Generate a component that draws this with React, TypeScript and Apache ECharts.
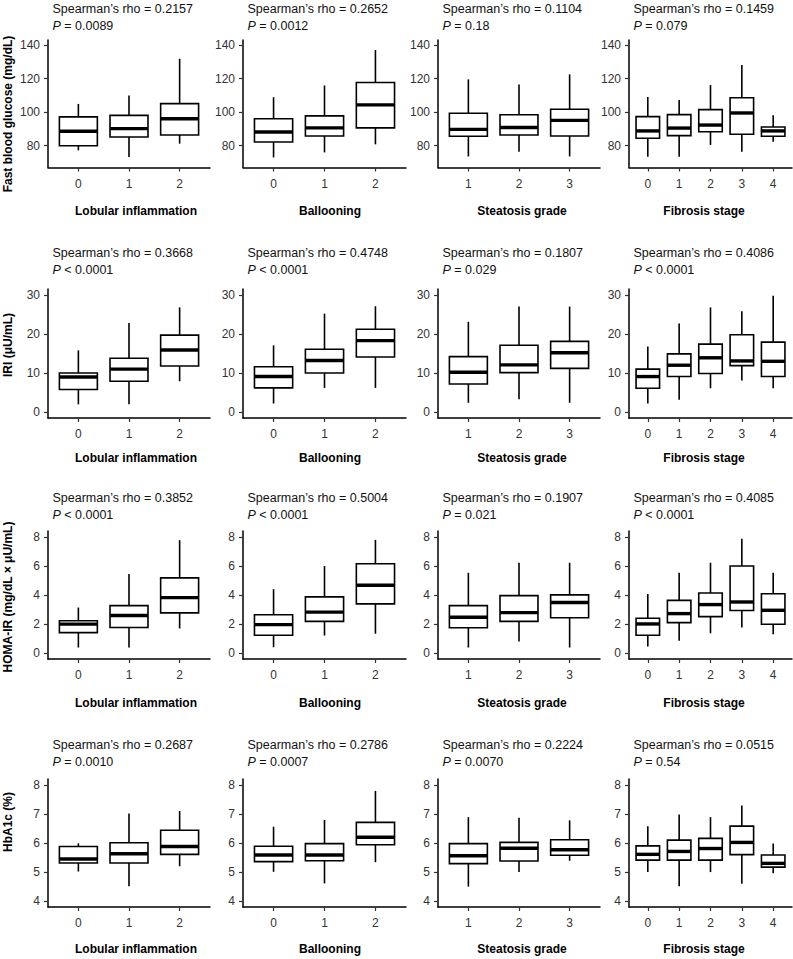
import React, { useEffect, useRef } from 'react';
import * as echarts from 'echarts';

// ---------- categories & titles ----------
const lobularCats = ['0', '1', '2'];
const ballooningCats = ['0', '1', '2'];
const steatosisCats = ['1', '2', '3'];
const fibrosisCats = ['0', '1', '2', '3', '4'];
const groupCats = [lobularCats, ballooningCats, steatosisCats, fibrosisCats];
const groupTitles = ['Lobular inflammation', 'Ballooning', 'Steatosis grade', 'Fibrosis stage'];
const measureTitles = ['Fast blood glucose (mg/dL)', 'IRI (μU/mL)', 'HOMA-IR (mg/dL × μU/mL)', 'HbA1c (%)'];

// ---------- box values: [min, Q1, median, Q3, max] ----------
const fbgLobular = [[77.2, 80, 88.6, 97.2, 104.9], [73.2, 85.2, 90.2, 98.1, 109.9], [81.2, 86.4, 96.1, 105.1, 131.8]];
const fbgBallooning = [[73, 82.2, 88.2, 96.1, 108.9], [76, 85.8, 90.6, 97.8, 115.9], [80.8, 90.6, 104.3, 117.7, 137]];
const fbgSteatosis = [[73.6, 85.6, 89.7, 99.3, 119.5], [76.4, 86.4, 90.8, 98.4, 116.5], [73.6, 85.8, 95.1, 101.7, 122.5]];
const fbgFibrosis = [[73.4, 84.4, 88.8, 97.3, 109], [73.4, 86, 90.5, 98.5, 107.2], [80.4, 88.3, 92.3, 101.5, 116.2], [76.4, 86.8, 99.5, 108.6, 128.1], [82.4, 85.6, 88.8, 91.1, 98.1]];

const iriLobular = [[2, 5.8, 9, 10, 15.8], [2, 7.9, 11, 13.8, 22.8], [7.9, 11.8, 15.9, 19.7, 26.8]];
const iriBallooning = [[2.2, 6.2, 9.1, 11.6, 17.1], [6.2, 10, 13.2, 16.1, 25.2], [6.2, 14.1, 18.3, 21.2, 27.1]];
const iriSteatosis = [[2.4, 7.2, 10.2, 14.2, 23.1], [3.3, 10.1, 12.1, 17.1, 27], [2.4, 11.2, 15.2, 18.1, 27]];
const iriFibrosis = [[2.2, 6.1, 9.1, 11, 16.8], [3.2, 9.1, 12, 14.9, 22.7], [6.1, 9.9, 13.9, 17.4, 26.8], [8.1, 11.9, 13.1, 19.8, 25.8], [6.1, 9.1, 13, 17.9, 29.8]];

const homaLobular = [[0.39, 1.41, 2.0, 2.23, 3.14], [0.39, 1.77, 2.59, 3.27, 5.45], [1.7, 2.77, 3.82, 5.18, 7.77]];
const homaBallooning = [[0.41, 1.23, 1.96, 2.64, 4.4], [1.21, 2.19, 2.82, 3.87, 5.99], [1.34, 3.39, 4.67, 6.15, 7.79]];
const homaSteatosis = [[0.39, 1.75, 2.47, 3.27, 5.53], [0.81, 2.19, 2.79, 3.96, 6.22], [0.39, 2.44, 3.48, 4.01, 6.22]];
const homaFibrosis = [[0.46, 1.23, 2.01, 2.4, 4.07], [0.85, 2.1, 2.72, 3.63, 5.53], [1.37, 2.51, 3.34, 4.14, 6.22], [1.76, 2.93, 3.52, 5.99, 7.86], [1.3, 1.99, 2.95, 4.09, 5.53]];

const hba1cLobular = [[5.02, 5.31, 5.45, 5.88, 5.99], [4.51, 5.31, 5.63, 6.01, 7.01], [5.2, 5.61, 5.88, 6.44, 7.1]];
const hba1cBallooning = [[5.01, 5.36, 5.59, 5.89, 6.56], [4.61, 5.39, 5.59, 5.98, 6.79], [5.34, 5.94, 6.2, 6.71, 7.79]];
const hba1cSteatosis = [[4.5, 5.29, 5.56, 5.98, 6.89], [5.0, 5.38, 5.82, 6.02, 6.87], [5.39, 5.58, 5.77, 6.11, 6.78]];
const hba1cFibrosis = [[5.0, 5.41, 5.61, 5.9, 6.58], [4.51, 5.41, 5.71, 6.1, 6.98], [5.0, 5.41, 5.81, 6.16, 6.89], [4.6, 5.6, 6.02, 6.58, 7.29], [4.96, 5.17, 5.3, 5.59, 5.98]];

// ---------- statistics text ----------
const fbgRho = ['0.2157', '0.2652', '0.1104', '0.1459'];
const fbgP = ['= 0.0089', '= 0.0012', '= 0.18', '= 0.079'];
const iriRho = ['0.3668', '0.4748', '0.1807', '0.4086'];
const iriP = ['< 0.0001', '< 0.0001', '= 0.029', '< 0.0001'];
const homaRho = ['0.3852', '0.5004', '0.1907', '0.4085'];
const homaP = ['< 0.0001', '< 0.0001', '= 0.021', '< 0.0001'];
const hba1cRho = ['0.2687', '0.2786', '0.2224', '0.0515'];
const hba1cP = ['= 0.0010', '= 0.0007', '= 0.0070', '= 0.54'];

// ---------- y-axis ticks & ranges ----------
const fbgTicks = [80, 100, 120, 140];
const iriTicks = [0, 10, 20, 30];
const homaTicks = [0, 2, 4, 6, 8];
const hba1cTicks = [4, 5, 6, 7, 8];
const fbgRange = [67, 143];
const iriRange = [-1.5, 31.5];
const homaRange = [-0.4, 8.4];
const hba1cRange = [3.8, 8.2];

const rows = [
  { data: [fbgLobular, fbgBallooning, fbgSteatosis, fbgFibrosis], rho: fbgRho, p: fbgP, ticks: fbgTicks, range: fbgRange },
  { data: [iriLobular, iriBallooning, iriSteatosis, iriFibrosis], rho: iriRho, p: iriP, ticks: iriTicks, range: iriRange },
  { data: [homaLobular, homaBallooning, homaSteatosis, homaFibrosis], rho: homaRho, p: homaP, ticks: homaTicks, range: homaRange },
  { data: [hba1cLobular, hba1cBallooning, hba1cSteatosis, hba1cFibrosis], rho: hba1cRho, p: hba1cP, ticks: hba1cTicks, range: hba1cRange },
];

// ---------- layout ----------
const W = 793;
const H = 959;
const colLeft = [48, 243, 438, 629];
const colRight = [210, 406, 600, 792];
const rowTop = [40, 289, 531, 779];
const rowBottom = [167.5, 418, 659, 907];
const statLine1 = [9, 253, 498, 745];
const xTitleX = [136, 330, 522, 704];
const xTitleY = [211, 458, 703, 949];
const yTitleY = [114, 345, 597, 822];
const FONT = '"Liberation Sans", Arial, Helvetica, sans-serif';
const LINE_H = 16.5;

function buildOption() {
  const grid: any[] = [];
  const xAxis: any[] = [];
  const yAxis: any[] = [];
  const series: any[] = [];
  const title: any[] = [];
  const graphic: any[] = [];

  rows.forEach((row, r) => {
    row.data.forEach((boxes, c) => {
      const idx = r * 4 + c;
      const cats = groupCats[c];
      const n = cats.length;
      grid.push({
        left: colLeft[c],
        top: rowTop[r],
        width: colRight[c] - colLeft[c],
        height: rowBottom[r] - rowTop[r],
        containLabel: false,
      });
      const catIdx = cats.map((_, i) => i);
      xAxis.push({
        type: 'value',
        gridIndex: idx,
        min: -0.6,
        max: n - 1 + 0.6,
        axisLine: { show: true, onZero: false, lineStyle: { color: '#000', width: 1.5 } },
        axisTick: { show: true, length: 4, customValues: catIdx, lineStyle: { color: '#333', width: 1.2 } },
        axisLabel: {
          show: true,
          customValues: catIdx,
          margin: 10,
          fontSize: 12,
          fontFamily: FONT,
          color: '#333',
          formatter: (v: number) => cats[Math.round(v)] ?? '',
        },
        splitLine: { show: false },
      });
      yAxis.push({
        type: 'value',
        gridIndex: idx,
        min: row.range[0],
        max: row.range[1],
        axisLine: { show: true, onZero: false, lineStyle: { color: '#000', width: 1.5 } },
        axisTick: { show: true, length: 4, customValues: row.ticks, lineStyle: { color: '#333', width: 1.2 } },
        axisLabel: {
          show: true,
          customValues: row.ticks,
          margin: 8,
          fontSize: 12,
          fontFamily: FONT,
          color: '#333',
        },
        splitLine: { show: false },
      });
      series.push({
        type: 'custom',
        xAxisIndex: idx,
        yAxisIndex: idx,
        encode: { x: 0, y: [1, 2, 3, 4, 5] },
        data: boxes.map((b, i) => [i, ...b]),
        renderItem: (_params: any, api: any) => {
          const x = api.value(0);
          const lo = api.coord([x, api.value(1)]);
          const q1 = api.coord([x, api.value(2)]);
          const med = api.coord([x, api.value(3)]);
          const q3 = api.coord([x, api.value(4)]);
          const hi = api.coord([x, api.value(5)]);
          const unit = api.size([1, 0])[0];
          const hw = unit * 0.375;
          const stroke = { stroke: '#000', lineWidth: 1.6 };
          return {
            type: 'group',
            children: [
              { type: 'line', shape: { x1: q3[0], y1: q3[1], x2: hi[0], y2: hi[1] }, style: stroke },
              { type: 'line', shape: { x1: q1[0], y1: q1[1], x2: lo[0], y2: lo[1] }, style: stroke },
              {
                type: 'rect',
                shape: { x: q3[0] - hw, y: q3[1], width: hw * 2, height: q1[1] - q3[1] },
                style: { fill: '#fff', stroke: '#000', lineWidth: 1.6 },
              },
              {
                type: 'line',
                shape: { x1: med[0] - hw, y1: med[1], x2: med[0] + hw, y2: med[1] },
                style: { stroke: '#000', lineWidth: 3.4 },
              },
            ],
          };
        },
      });
      title.push({
        left: colLeft[c] + 4.5,
        top: statLine1[r] - LINE_H / 2,
        padding: 0,
        text: `Spearman’s rho = ${row.rho[c]}\n{i|P} ${row.p[c]}`,
        textStyle: {
          fontSize: 12.5,
          fontWeight: 'normal',
          fontFamily: FONT,
          color: '#111',
          lineHeight: LINE_H,
          rich: {
            i: { fontStyle: 'italic', fontSize: 12.5, fontFamily: FONT, color: '#111', lineHeight: LINE_H },
          },
        },
      });
      graphic.push({
        type: 'text',
        x: xTitleX[c],
        y: xTitleY[r],
        style: {
          text: groupTitles[c],
          fontSize: 12,
          fontWeight: 'bold',
          fontFamily: FONT,
          fill: '#000',
          align: 'center',
          verticalAlign: 'middle',
        },
      });
    });
    graphic.push({
      type: 'text',
      x: 8,
      y: yTitleY[r],
      rotation: Math.PI / 2,
      style: {
        text: measureTitles[r],
        fontSize: 12,
        fontWeight: 'bold',
        fontFamily: FONT,
        fill: '#000',
        align: 'center',
        verticalAlign: 'middle',
      },
    });
  });

  return {
    animation: false,
    backgroundColor: '#fff',
    title,
    grid,
    xAxis,
    yAxis,
    series,
    graphic,
  };
}

export default function App() {
  const ref = useRef<HTMLDivElement>(null);
  useEffect(() => {
    if (!ref.current) return;
    const chart = echarts.init(ref.current, undefined, { renderer: 'svg' });
    chart.setOption(buildOption() as any);
    return () => chart.dispose();
  }, []);
  return <div ref={ref} style={{ position: 'absolute', left: 0, top: 0, width: W, height: H }} />;
}
